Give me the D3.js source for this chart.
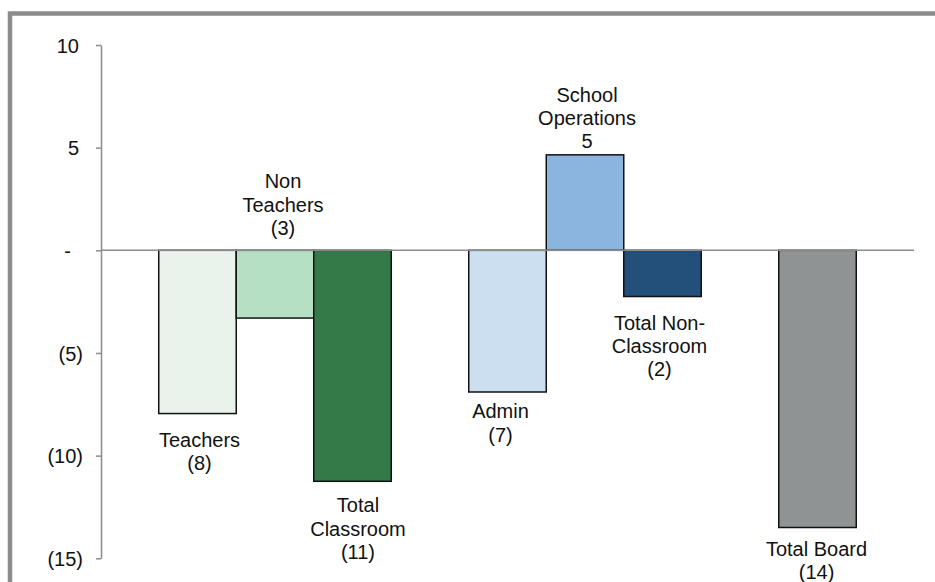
<!DOCTYPE html>
<html>
<head>
<meta charset="utf-8">
<script src="https://cdn.jsdelivr.net/npm/d3@7"></script>
<style>
  html, body { margin: 0; padding: 0; background: #ffffff; }
  svg { display: block; }
  text { font-family: "Liberation Sans", Arial, sans-serif; fill: #111; }
</style>
</head>
<body>
<svg id="chart" width="935" height="582"></svg>
<script>
// ---------- data ----------
const slots = ["Teachers", "Non Teachers", "Total Classroom", "_gap1",
               "Admin", "School Operations", "Total Non-Classroom", "_gap2", "Total Board"];
const categories = ["Teachers", "Non Teachers", "Total Classroom",
                    "Admin", "School Operations", "Total Non-Classroom", "Total Board"];
const values = [-7.95, -3.3, -11.25, -6.9, 4.65, -2.25, -13.5];
const labelNames = [["Teachers"], ["Non", "Teachers"], ["Total", "Classroom"],
                    ["Admin"], ["School", "Operations"], ["Total Non-", "Classroom"], ["Total Board"]];
const colors = ["#E9F3EB", "#B5E0C3", "#347A48", "#CCDFF1", "#8BB5DF", "#22507A", "#8F9393"];
const tickValues = [-15, -10, -5, 0, 5, 10];
const tickLabels = ["(15)", "(10)", "(5)", "-", "5", "10"];

// label layout tweaks (placement relative to bar end)
const labelPlace = ["below", "aboveZero", "below", "below", "above", "below", "below"];
const labelDx = [2, 8, 5.5, -7, 2, -3, -1];
const labelDy = [2, 0, 0, -4.5, 0, 2, -3];

// ---------- layout ----------
const svg = d3.select("#chart");
const axisX = 101, plotRight = 914;
const fmt = v => { const r = Math.round(Math.abs(v)); return v < 0 ? "(" + r + ")" : String(r); };

const y = d3.scaleLinear().domain([-15, 10]).range([558.3, 45]);
const x = d3.scaleBand().domain(slots).range([axisX, plotRight])
            .paddingInner(0).paddingOuter(0.745);

// outer frame
svg.append("rect")
  .attr("x", 10).attr("y", 13.5)
  .attr("width", 1000).attr("height", 1000)
  .attr("fill", "none").attr("stroke", "#8C8C8C").attr("stroke-width", 4.5);

// bars
const data = categories.map((c, i) => ({ c, v: values[i], color: colors[i], i }));
svg.append("g").selectAll("rect").data(data).join("rect")
  .attr("x", d => x(d.c))
  .attr("width", x.bandwidth())
  .attr("y", d => y(Math.max(0, d.v)))
  .attr("height", d => Math.abs(y(d.v) - y(0)))
  .attr("fill", d => d.color)
  .attr("stroke", "#111").attr("stroke-width", 1.5);

// y axis
const axis = d3.axisLeft(y).tickValues(tickValues).tickSize(5).tickSizeOuter(0)
  .tickFormat((d, i) => tickLabels[i]);
const gAxis = svg.append("g").attr("transform", `translate(${axisX},0)`).call(axis);
gAxis.select(".domain").attr("stroke", "#8C8C8C").attr("stroke-width", 1.5);
gAxis.selectAll(".tick line").attr("stroke", "#8C8C8C").attr("stroke-width", 1.5);
gAxis.selectAll(".tick text")
  .attr("font-family", "Liberation Sans, Arial, sans-serif")
  .attr("font-size", 20).attr("fill", "#111")
  .attr("dy", "0.36em")
  .attr("x", (d, i) => {
    const t = tickLabels[i];
    if (t.startsWith("(")) return 83 - axisX;
    if (t === "-") return 71 - axisX;
    return 79 - axisX;
  });

// zero line
svg.append("line")
  .attr("x1", axisX).attr("x2", plotRight)
  .attr("y1", y(0)).attr("y2", y(0))
  .attr("stroke", "#8C8C8C").attr("stroke-width", 1.5);

// data labels
const lineH = 23.4;
data.forEach((d, i) => {
  const lines = labelNames[i].concat([fmt(d.v)]);
  const cx = x(d.c) + x.bandwidth() / 2 + labelDx[i];
  let firstBase;
  if (labelPlace[i] === "below") {
    firstBase = y(d.v) + 31 + labelDy[i];
  } else if (labelPlace[i] === "above") {
    firstBase = y(d.v) - 6.5 - (lines.length - 1) * lineH + labelDy[i];
  } else { // above the zero line
    firstBase = y(0) - 15.3 - (lines.length - 1) * lineH + labelDy[i];
  }
  const t = svg.append("text")
    .attr("text-anchor", "middle")
    .attr("font-size", 20);
  lines.forEach((ln, k) => {
    t.append("tspan").attr("x", cx).attr("y", firstBase + k * lineH).text(ln);
  });
});
</script>
</body>
</html>
